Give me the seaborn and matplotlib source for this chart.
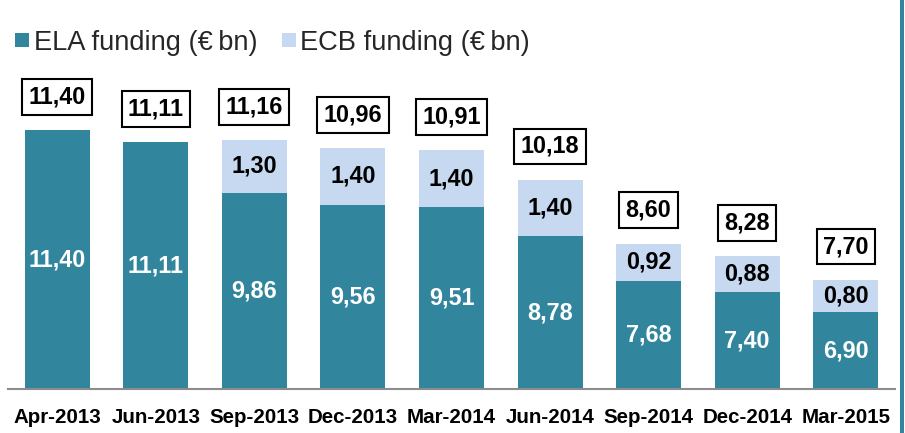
import matplotlib
matplotlib.use("Agg")
import matplotlib.pyplot as plt
from matplotlib.lines import Line2D
from matplotlib.patches import Rectangle
import seaborn as sns
import pandas as pd

categories = ["Apr-2013", "Jun-2013", "Sep-2013", "Dec-2013", "Mar-2014",
              "Jun-2014", "Sep-2014", "Dec-2014", "Mar-2015"]
ela_values = [11.40, 11.11, 9.86, 9.56, 9.51, 8.78, 7.68, 7.40, 6.90]
ecb_values = [0.00, 0.00, 1.30, 1.40, 1.40, 1.40, 0.92, 0.88, 0.80]
series_names = ["ELA funding (\u20ac\u2009bn)", "ECB funding (\u20ac\u2009bn)"]

ELA_COLOR = "#31859C"
ECB_COLOR = "#C6D9F0"

sns.set_theme(style="white")
plt.rcParams["font.family"] = ["Liberation Sans", "DejaVu Sans"]

df = pd.DataFrame({"period": categories, "ela": ela_values, "ecb": ecb_values})
df["total"] = df["ela"] + df["ecb"]

fig = plt.figure(figsize=(9.05, 4.33), dpi=100)
ax = fig.add_axes([8 / 905, 44 / 433, 887 / 905, 303 / 433])

sns.barplot(data=df, x="period", y="total", color=ECB_COLOR, width=0.66,
            saturation=1, ax=ax, linewidth=0)
sns.barplot(data=df, x="period", y="ela", color=ELA_COLOR, width=0.66,
            saturation=1, ax=ax, linewidth=0)

ax.set_ylim(5, 12.5)
ax.set_xlim(-0.5, len(categories) - 0.5)
ax.set_xlabel("")
ax.set_ylabel("")
ax.set_yticks([])
for s in ["top", "right", "left"]:
    ax.spines[s].set_visible(False)
ax.spines["bottom"].set_color("#8C8C8C")
ax.spines["bottom"].set_linewidth(1.5)
ax.tick_params(axis="x", length=0, pad=13.5, labelsize=14.8)
for lab in ax.get_xticklabels():
    lab.set_fontweight("bold")
    lab.set_color("black")

def fmt(v):
    return f"{v:.2f}".replace(".", ",")

NUM_SIZE = 16.8

for i, row in df.iterrows():
    ax.text(i, (5 + row["ela"]) / 2, fmt(row["ela"]), ha="center", va="center",
            color="white", fontsize=NUM_SIZE, fontweight="bold")
    if row["ecb"] > 0:
        ax.text(i, row["ela"] + row["ecb"] / 2, fmt(row["ecb"]), ha="center",
                va="center", color="black", fontsize=NUM_SIZE, fontweight="bold")
    ax.annotate(fmt(row["total"]), xy=(i, row["total"]), xytext=(0, 24),
                textcoords="offset points", ha="center", va="center",
                fontsize=NUM_SIZE, fontweight="bold", color="black",
                annotation_clip=False,
                bbox=dict(boxstyle="square,pad=0.27", fc="white", ec="black", lw=1.5))

handles = [
    Line2D([], [], marker="s", linestyle="none", markersize=9.5,
           markerfacecolor=ELA_COLOR, markeredgewidth=0),
    Line2D([], [], marker="s", linestyle="none", markersize=9.5,
           markerfacecolor=ECB_COLOR, markeredgewidth=0),
]
fig.legend(handles, series_names, loc="center left",
           bbox_to_anchor=(14 / 905, 1 - 43 / 433), ncol=2, frameon=False,
           fontsize=19.6, handlelength=0.6, handletextpad=0.12,
           columnspacing=0.85, borderpad=0, borderaxespad=0)

fig.add_artist(Rectangle((900 / 905, 0), 3.5 / 905, 1, transform=fig.transFigure,
                         facecolor=ELA_COLOR, edgecolor="none"))

fig.savefig("out.png", dpi=100)
